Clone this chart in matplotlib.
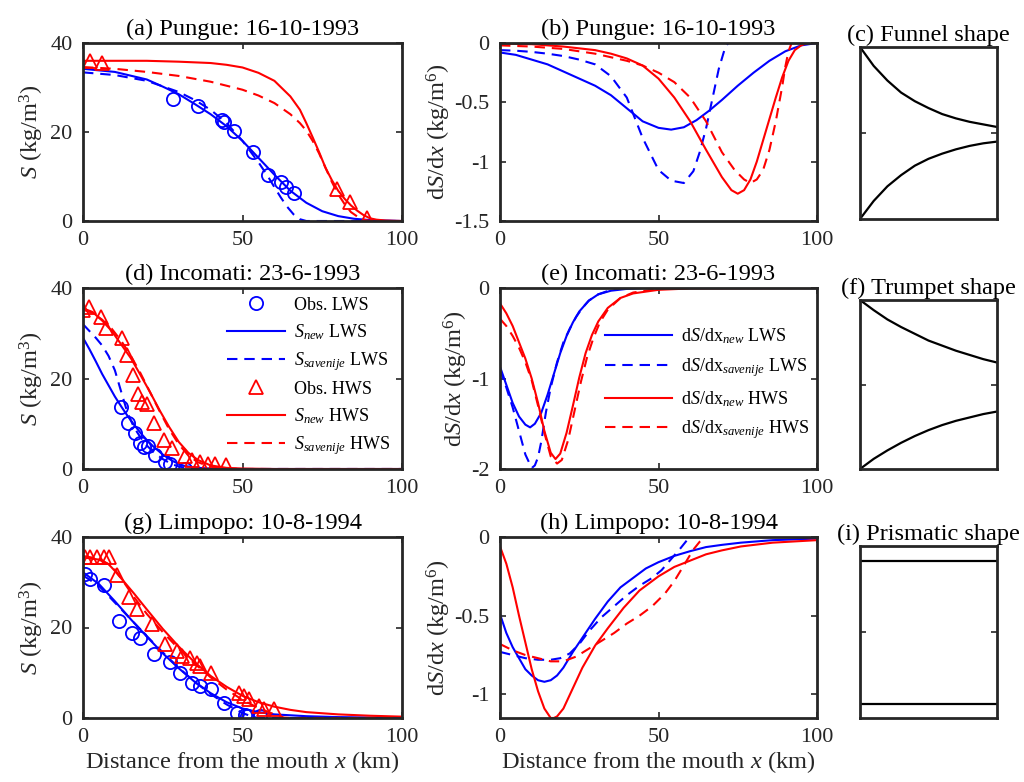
import numpy as np
import matplotlib
matplotlib.use("Agg")
import matplotlib.pyplot as plt

plt.rcParams['font.family'] = ['Liberation Serif', 'DejaVu Serif']
plt.rcParams['mathtext.fontset'] = 'custom'
plt.rcParams['mathtext.rm'] = 'Liberation Serif'
plt.rcParams['mathtext.it'] = 'Liberation Serif:italic'
plt.rcParams['axes.unicode_minus'] = False

# ---------------- (a) Pungue salinity ----------------
a_obs_lws_x = [28.1, 36.0, 43.6, 44.3, 47.2, 53.2, 58.0, 62.2, 63.7, 66.0]
a_obs_lws_s = [27.5, 25.8, 22.8, 22.3, 20.2, 15.4, 10.3, 8.8, 7.6, 6.4]
a_obs_hws_x = [2.1, 6.0, 79.6, 83.6, 89.0]
a_obs_hws_s = [35.9, 35.5, 7.2, 4.3, 0.6]

a_new_lws_x = [0, 10, 20, 25, 30, 35, 40, 45, 50, 55, 60, 65, 70, 75, 80, 85, 90, 95, 100]
a_new_lws_s = [34.2, 33.5, 31.8, 30.2, 28.5, 26.3, 24.0, 21.3, 18.0, 14.2, 10.4, 6.8, 4.1, 2.2, 1.1, 0.5, 0.2, 0.1, 0.0]
a_sav_lws_x = [0, 10, 20, 30, 35, 40, 45, 50, 55, 58, 60, 62, 64, 66, 68, 70, 100]
a_sav_lws_s = [33.4, 32.8, 31.5, 29.0, 27.2, 25.0, 22.0, 18.0, 13.2, 10.0, 7.6, 5.3, 3.2, 1.5, 0.4, 0.0, 0.0]
a_new_hws_x = [0, 10, 20, 30, 40, 45, 50, 55, 60, 65, 68, 70, 72, 74, 76, 78, 80, 82, 84, 86, 88, 90, 92, 95, 100]
a_new_hws_s = [36.0, 36.0, 36.0, 35.8, 35.5, 35.1, 34.5, 33.3, 31.5, 28.0, 25.0, 22.0, 18.8, 15.5, 12.0, 9.2, 6.8, 5.0, 3.5, 2.3, 1.3, 0.6, 0.3, 0.1, 0.0]
a_sav_hws_x = [0, 10, 20, 30, 40, 50, 55, 60, 65, 68, 70, 72, 74, 76, 78, 80, 82, 84, 86, 88, 90, 100]
a_sav_hws_s = [34.6, 34.2, 33.5, 32.6, 31.3, 29.5, 28.2, 26.5, 24.0, 22.0, 20.3, 18.0, 15.2, 12.0, 8.8, 6.0, 3.8, 2.0, 1.0, 0.3, 0.0, 0.0]

# ---------------- (b) Pungue gradient ----------------
b_new_lws_x = [0, 5, 10, 15, 20, 25, 30, 35, 40, 45, 50, 54, 58, 62, 66, 70, 75, 80, 85, 90, 95, 100]
b_new_lws_g = [-0.08, -0.10, -0.14, -0.18, -0.24, -0.30, -0.36, -0.44, -0.55, -0.66, -0.715, -0.73, -0.71, -0.65, -0.57, -0.48, -0.36, -0.25, -0.15, -0.07, -0.02, 0.0]
b_sav_lws_x = [0, 5, 10, 15, 20, 25, 30, 35, 40, 45, 50, 54, 58, 61, 63, 65, 67, 69, 71, 72, 100]
b_sav_lws_g = [-0.06, -0.065, -0.075, -0.09, -0.11, -0.14, -0.18, -0.28, -0.46, -0.80, -1.07, -1.16, -1.18, -1.08, -0.92, -0.72, -0.47, -0.22, -0.04, 0.0, 0.0]
b_new_hws_x = [0, 10, 20, 30, 35, 40, 45, 50, 55, 60, 65, 70, 73, 75, 77, 79, 81, 83, 85, 87, 89, 91, 93, 95, 97, 100]
b_new_hws_g = [-0.005, -0.01, -0.03, -0.06, -0.09, -0.13, -0.19, -0.30, -0.46, -0.66, -0.90, -1.13, -1.24, -1.27, -1.24, -1.15, -1.00, -0.82, -0.64, -0.46, -0.29, -0.15, -0.06, -0.02, 0.0, 0.0]
b_sav_hws_x = [0, 10, 20, 30, 40, 45, 50, 55, 60, 65, 70, 74, 77, 79, 81, 83, 85, 87, 89, 90, 91, 92, 100]
b_sav_hws_g = [-0.02, -0.03, -0.05, -0.09, -0.15, -0.19, -0.25, -0.33, -0.46, -0.66, -0.92, -1.07, -1.15, -1.18, -1.15, -1.07, -0.90, -0.66, -0.37, -0.20, -0.07, 0.0, 0.0]

# ---------------- (d) Incomati salinity ----------------
d_obs_lws_x = [12.0, 14.1, 16.4, 17.9, 19.0, 20.3, 22.7, 25.6, 27.4, 31.9]
d_obs_lws_s = [13.6, 10.1, 7.9, 5.8, 4.9, 5.0, 3.1, 1.5, 1.0, 0.0]
d_obs_hws_x = [0.0, 1.8, 5.7, 7.3, 12.2, 13.8, 15.6, 17.1, 18.5, 20.0, 22.2, 25.3, 27.9, 31.9, 34.2, 36.8, 39.1, 41.3, 44.8]
d_obs_hws_s = [35.2, 35.8, 33.7, 31.1, 28.9, 25.2, 20.8, 16.6, 14.8, 14.4, 10.1, 6.4, 4.6, 2.9, 2.0, 1.6, 1.1, 1.1, 0.9]

d_new_lws_x = [0, 2, 4, 6, 8, 10, 12, 14, 16, 18, 20, 22, 25, 28, 31, 35, 40, 50, 100]
d_new_lws_s = [29.0, 26.5, 23.8, 21.0, 18.5, 16.0, 13.8, 11.7, 9.8, 8.0, 6.4, 5.0, 3.2, 1.8, 0.8, 0.3, 0.1, 0.0, 0.0]
d_sav_lws_x = [0, 2, 4, 6, 8, 10, 12, 14, 16, 18, 20, 22, 25, 28, 31, 35, 40, 100]
d_sav_lws_s = [32.0, 30.5, 29.0, 27.3, 25.0, 21.8, 17.0, 12.3, 9.2, 7.0, 5.2, 3.8, 2.2, 1.0, 0.4, 0.1, 0.0, 0.0]
d_new_hws_x = [0, 3, 6, 9, 12, 15, 18, 21, 24, 27, 30, 33, 36, 40, 45, 50, 60, 100]
d_new_hws_s = [35.5, 34.7, 32.8, 30.5, 27.5, 24.5, 20.8, 17.0, 13.0, 9.3, 6.0, 3.6, 2.0, 0.8, 0.25, 0.1, 0.0, 0.0]
d_sav_hws_x = [0, 3, 6, 9, 12, 15, 18, 21, 24, 27, 30, 33, 36, 40, 45, 50, 100]
d_sav_hws_s = [35.2, 34.5, 33.0, 31.0, 28.3, 25.0, 21.2, 17.0, 12.8, 8.8, 5.5, 3.0, 1.5, 0.5, 0.1, 0.0, 0.0]

# ---------------- (e) Incomati gradient ----------------
e_new_lws_x = [0, 2, 4, 6, 8, 9.5, 11, 13, 15, 17, 19, 21, 23, 25, 28, 31, 35, 40, 45, 100]
e_new_lws_g = [-0.87, -1.07, -1.27, -1.42, -1.51, -1.54, -1.50, -1.38, -1.18, -0.95, -0.72, -0.53, -0.38, -0.26, -0.14, -0.07, -0.03, -0.01, 0.0, 0.0]
e_sav_lws_x = [0, 2, 4, 6, 8, 10, 11, 12, 13, 14.5, 16, 18, 20, 22, 24, 26, 28, 31, 35, 40, 100]
e_sav_lws_g = [-0.90, -1.10, -1.32, -1.58, -1.84, -1.99, -1.96, -1.87, -1.70, -1.37, -1.10, -0.82, -0.60, -0.45, -0.32, -0.22, -0.14, -0.07, -0.02, 0.0, 0.0]
e_new_hws_x = [0, 2, 4, 6, 8, 10, 12, 14, 16, 17.5, 19, 21, 23, 25, 27, 29, 31, 34, 38, 42, 50, 60, 100]
e_new_hws_g = [-0.17, -0.28, -0.42, -0.60, -0.78, -1.00, -1.27, -1.58, -1.82, -1.89, -1.83, -1.60, -1.30, -0.99, -0.72, -0.52, -0.37, -0.22, -0.11, -0.06, -0.02, -0.005, 0.0]
e_sav_hws_x = [0, 2, 4, 6, 8, 10, 12, 14, 16, 18, 19.5, 21.5, 23.5, 25.5, 27.5, 29.5, 31.5, 34, 38, 42, 50, 60, 100]
e_sav_hws_g = [-0.34, -0.42, -0.53, -0.66, -0.82, -1.02, -1.30, -1.60, -1.86, -1.94, -1.90, -1.68, -1.36, -1.04, -0.76, -0.55, -0.38, -0.24, -0.11, -0.05, -0.01, 0.0, 0.0]

# ---------------- (g) Limpopo salinity ----------------
g_obs_lws_x = [0.7, 2.3, 6.5, 11.2, 15.4, 18.0, 22.2, 27.4, 30.5, 34.2, 36.8, 40.0, 44.1, 48.3, 50.9, 51.4, 55.6]
g_obs_lws_s = [31.9, 30.7, 29.3, 21.5, 18.7, 17.6, 14.1, 12.4, 10.0, 7.8, 7.0, 6.3, 3.3, 1.1, 0.7, 0.4, 0.4]
g_obs_hws_x = [0.7, 2.1, 4.4, 6.5, 8.0, 10.7, 14.3, 16.9, 21.6, 25.8, 29.5, 31.0, 33.6, 35.7, 36.8, 40.0, 48.8, 50.4, 52.0, 55.1, 56.7, 59.8]
g_obs_hws_s = [35.6, 35.6, 35.6, 35.6, 35.6, 31.5, 26.7, 24.1, 20.7, 16.3, 14.8, 13.7, 13.3, 12.2, 11.5, 10.0, 5.6, 4.8, 4.1, 2.6, 1.9, 1.9]

g_new_lws_x = [0, 5, 10, 15, 20, 25, 30, 35, 40, 45, 50, 55, 60, 70, 80, 90, 100]
g_new_lws_s = [32.2, 29.6, 25.8, 21.8, 18.0, 14.3, 11.0, 8.0, 5.5, 3.5, 2.1, 1.3, 0.8, 0.4, 0.2, 0.1, 0.05]
g_sav_lws_x = [0, 5, 10, 15, 20, 25, 30, 35, 40, 45, 50, 53, 55, 100]
g_sav_lws_s = [31.5, 29.2, 25.5, 21.8, 18.1, 14.5, 11.1, 8.0, 5.3, 3.0, 1.1, 0.3, 0.0, 0.0]
g_new_hws_x = [0, 5, 8, 10, 13, 16, 20, 25, 30, 35, 40, 45, 50, 55, 60, 65, 70, 80, 90, 100]
g_new_hws_s = [35.5, 35.0, 34.0, 32.5, 30.0, 27.5, 24.0, 19.7, 15.8, 12.3, 9.3, 6.9, 4.9, 3.5, 2.5, 1.8, 1.3, 0.8, 0.5, 0.3]
g_sav_hws_x = [0, 5, 8, 10, 13, 16, 20, 25, 30, 35, 40, 45, 50, 55, 60, 63, 65, 100]
g_sav_hws_s = [35.8, 35.2, 34.0, 32.8, 29.8, 26.7, 23.0, 19.0, 15.3, 12.0, 9.0, 6.3, 4.0, 2.2, 0.8, 0.1, 0.0, 0.0]

# ---------------- (h) Limpopo gradient ----------------
h_new_lws_x = [0, 2, 4, 6, 8, 10, 12, 14, 16, 18, 20, 23, 26, 30, 34, 38, 42, 46, 50, 55, 60, 65, 70, 76, 86, 100]
h_new_lws_g = [-0.49, -0.61, -0.70, -0.77, -0.84, -0.88, -0.91, -0.92, -0.91, -0.88, -0.83, -0.73, -0.64, -0.52, -0.41, -0.32, -0.26, -0.20, -0.16, -0.12, -0.09, -0.064, -0.05, -0.036, -0.02, -0.01]
h_sav_lws_x = [0, 4, 8, 12, 16, 19, 22, 25, 28, 32, 36, 40, 44, 48, 51, 54, 57, 59, 60, 100]
h_sav_lws_g = [-0.73, -0.75, -0.77, -0.78, -0.78, -0.77, -0.74, -0.68, -0.60, -0.51, -0.44, -0.37, -0.31, -0.26, -0.21, -0.14, -0.07, -0.02, 0.0, 0.0]
h_new_hws_x = [0, 2, 4, 6, 8, 10, 12, 14, 16, 17, 18, 20, 23, 26, 30, 34, 39, 44, 50, 55, 60, 65, 70, 76, 86, 100]
h_new_hws_g = [-0.06, -0.17, -0.32, -0.50, -0.67, -0.84, -0.98, -1.09, -1.15, -1.15, -1.14, -1.09, -0.96, -0.83, -0.69, -0.58, -0.45, -0.34, -0.25, -0.19, -0.15, -0.11, -0.085, -0.06, -0.036, -0.02]
h_sav_hws_x = [0, 4, 8, 12, 16, 20, 24, 28, 32, 36, 40, 44, 48, 52, 55, 58, 61, 63, 65, 100]
h_sav_hws_g = [-0.68, -0.72, -0.75, -0.77, -0.79, -0.79, -0.76, -0.71, -0.66, -0.61, -0.55, -0.50, -0.44, -0.36, -0.28, -0.18, -0.08, -0.03, 0.0, 0.0]

# ---------------- (c, f, i) estuary shapes ----------------
shape_x = [0, 10, 20, 30, 40, 50, 60, 70, 80, 90, 100]
funnel_top = [1.0, 0.78, 0.61, 0.47, 0.37, 0.29, 0.22, 0.17, 0.13, 0.10, 0.07]
funnel_bot = [-1.0, -0.79, -0.62, -0.49, -0.38, -0.30, -0.24, -0.19, -0.15, -0.12, -0.10]
trumpet_top = [1.0, 0.88, 0.77, 0.68, 0.60, 0.52, 0.46, 0.40, 0.35, 0.30, 0.26]
trumpet_bot = [-1.0, -0.88, -0.78, -0.69, -0.61, -0.54, -0.48, -0.43, -0.39, -0.35, -0.32]
prism_top = [0.83] * len(shape_x)
prism_bot = [-0.84] * len(shape_x)

BLUE = (0, 0, 1)
RED = (1, 0, 0)
DARK = '#262626'
LW = 1.5
DASH = (0, (5, 3.3))
TICK_FS = 16
LAB_FS = 17.6
LEG_FS = 13

fig = plt.figure(figsize=(10.24, 7.82), dpi=100)

col_left = [83 / 1024, 500 / 1024, 860 / 1024]
col_w = [319 / 1024, 317 / 1024, 137 / 1024]
rows = [(43, 221), (288, 469), (537, 718)]
shape_rows = [(47, 219), (300, 469), (546, 718)]


def make_ax(col, top_bot):
    t, b = top_bot
    return fig.add_axes([col_left[col], 1 - b / 782, col_w[col], (b - t) / 782])


def style(ax):
    for sp in ax.spines.values():
        sp.set_linewidth(2.0)
        sp.set_color(DARK)
    ax.tick_params(direction='in', length=4, width=1.2, top=True, right=True,
                   labelsize=TICK_FS, colors=DARK, pad=7.5)


def salinity_panel(ax, title, nl, sl, nh, sh, ol, oh, xlabel=False):
    ax.plot(ol[0], ol[1], 'o', mfc='none', mec=BLUE, ms=9.5, mew=1.3, label='Obs. LWS')
    ax.plot(nl[0], nl[1], color=BLUE, lw=LW, label=r'$S_{new}$ LWS')
    ax.plot(sl[0], sl[1], color=BLUE, lw=LW, ls=DASH, label=r'$S_{savenije}$ LWS')
    ax.plot(oh[0], oh[1], '^', mfc='none', mec=RED, ms=10.5, mew=1.3, label='Obs. HWS')
    ax.plot(nh[0], nh[1], color=RED, lw=LW, label=r'$S_{new}$ HWS')
    ax.plot(sh[0], sh[1], color=RED, lw=LW, ls=DASH, label=r'$S_{savenije}$ HWS')
    ax.set_xlim(0, 100)
    ax.set_ylim(0, 40)
    ax.set_xticks([0, 50, 100])
    ax.set_yticks([0, 20, 40])
    ax.set_ylabel(r'$S$ (kg/m$^3$)', fontsize=LAB_FS, color=DARK, labelpad=3)
    ax.set_title(title, fontsize=LAB_FS, pad=5.5)
    if xlabel:
        ax.set_xlabel(r'Distance from the mouth $x$ (km)', fontsize=LAB_FS, color=DARK, labelpad=1)
    style(ax)


def gradient_panel(ax, title, nl, sl, nh, sh, ylim, yticks, ytl, xlabel=False):
    ax.plot(nl[0], nl[1], color=BLUE, lw=LW, label=r'd$S$/dx$_{new}$ LWS')
    ax.plot(sl[0], sl[1], color=BLUE, lw=LW, ls=DASH, label=r'd$S$/dx$_{savenije}$ LWS')
    ax.plot(nh[0], nh[1], color=RED, lw=LW, label=r'd$S$/dx$_{new}$ HWS')
    ax.plot(sh[0], sh[1], color=RED, lw=LW, ls=DASH, label=r'd$S$/dx$_{savenije}$ HWS')
    ax.set_xlim(0, 100)
    ax.set_ylim(*ylim)
    ax.set_xticks([0, 50, 100])
    ax.set_yticks(yticks)
    ax.set_yticklabels(ytl)
    ax.set_ylabel(r'd$S$/d$x$ (kg/m$^6$)', fontsize=LAB_FS, color=DARK, labelpad=1)
    ax.set_title(title, fontsize=LAB_FS, pad=5.5)
    if xlabel:
        ax.set_xlabel(r'Distance from the mouth $x$ (km)', fontsize=LAB_FS, color=DARK, labelpad=1)
    style(ax)


def shape_panel(ax, title, top, bot):
    ax.plot(shape_x, top, color='k', lw=1.6)
    ax.plot(shape_x, bot, color='k', lw=1.6)
    ax.set_xlim(0, 100)
    ax.set_ylim(-1, 1)
    ax.set_xticks([])
    ax.set_yticks([0])
    ax.set_yticklabels([])
    ax.set_title(title, fontsize=LAB_FS, pad=4)
    style(ax)


# row 1
ax_a = make_ax(0, rows[0])
salinity_panel(ax_a, '(a) Pungue: 16-10-1993',
               (a_new_lws_x, a_new_lws_s), (a_sav_lws_x, a_sav_lws_s),
               (a_new_hws_x, a_new_hws_s), (a_sav_hws_x, a_sav_hws_s),
               (a_obs_lws_x, a_obs_lws_s), (a_obs_hws_x, a_obs_hws_s))
ax_b = make_ax(1, rows[0])
gradient_panel(ax_b, '(b) Pungue: 16-10-1993',
               (b_new_lws_x, b_new_lws_g), (b_sav_lws_x, b_sav_lws_g),
               (b_new_hws_x, b_new_hws_g), (b_sav_hws_x, b_sav_hws_g),
               (-1.5, 0), [-1.5, -1, -0.5, 0], ['-1.5', '-1', '-0.5', '0'])
ax_c = make_ax(2, shape_rows[0])
shape_panel(ax_c, '(c) Funnel shape', funnel_top, funnel_bot)

# row 2
ax_d = make_ax(0, rows[1])
salinity_panel(ax_d, '(d) Incomati: 23-6-1993',
               (d_new_lws_x, d_new_lws_s), (d_sav_lws_x, d_sav_lws_s),
               (d_new_hws_x, d_new_hws_s), (d_sav_hws_x, d_sav_hws_s),
               (d_obs_lws_x, d_obs_lws_s), (d_obs_hws_x, d_obs_hws_s))
ax_d.legend(loc='center left', bbox_to_anchor=(0.43, 0.51), frameon=False, fontsize=LEG_FS,
            handlelength=3.2, handletextpad=0.5, labelspacing=0.45, borderaxespad=0)
ax_e = make_ax(1, rows[1])
gradient_panel(ax_e, '(e) Incomati: 23-6-1993',
               (e_new_lws_x, e_new_lws_g), (e_sav_lws_x, e_sav_lws_g),
               (e_new_hws_x, e_new_hws_g), (e_sav_hws_x, e_sav_hws_g),
               (-2, 0), [-2, -1, 0], ['-2', '-1', '0'])
ax_e.legend(loc='center left', bbox_to_anchor=(0.31, 0.47), frameon=False, fontsize=LEG_FS,
            handlelength=3.7, handletextpad=0.5, labelspacing=0.55, borderaxespad=0)
ax_f = make_ax(2, shape_rows[1])
shape_panel(ax_f, '(f) Trumpet shape', trumpet_top, trumpet_bot)

# row 3
ax_g = make_ax(0, rows[2])
salinity_panel(ax_g, '(g) Limpopo: 10-8-1994',
               (g_new_lws_x, g_new_lws_s), (g_sav_lws_x, g_sav_lws_s),
               (g_new_hws_x, g_new_hws_s), (g_sav_hws_x, g_sav_hws_s),
               (g_obs_lws_x, g_obs_lws_s), (g_obs_hws_x, g_obs_hws_s), xlabel=True)
ax_h = make_ax(1, rows[2])
gradient_panel(ax_h, '(h) Limpopo: 10-8-1994',
               (h_new_lws_x, h_new_lws_g), (h_sav_lws_x, h_sav_lws_g),
               (h_new_hws_x, h_new_hws_g), (h_sav_hws_x, h_sav_hws_g),
               (-1.15, 0), [-1, -0.5, 0], ['-1', '-0.5', '0'], xlabel=True)
ax_i = make_ax(2, shape_rows[2])
shape_panel(ax_i, '(i) Prismatic shape', prism_top, prism_bot)

fig.savefig('out.png', dpi=100)
